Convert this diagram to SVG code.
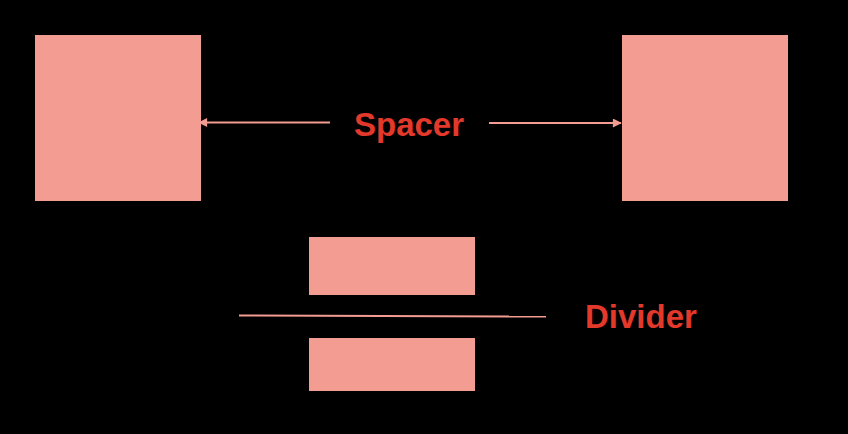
<svg xmlns="http://www.w3.org/2000/svg" width="848" height="434" viewBox="0 0 848 434">
<style>
.box{fill:#F29C92}
.lbl{font-family:"Liberation Sans",Arial,sans-serif;font-weight:bold;font-size:33px;fill:#E2392B}
.ln{stroke:#F29C92;stroke-width:2;fill:none}
</style>
<defs>
<marker id="ah" viewBox="0 0 10 10" refX="9" refY="5" markerWidth="10" markerHeight="9" markerUnits="userSpaceOnUse" orient="auto">
<path d="M0,0 L10,5 L0,10 z" fill="#F29C92"/>
</marker>
</defs>
<rect width="848" height="434" fill="#000"/>
<g id="box-left"><rect class="box" x="35" y="35" width="166" height="166"/></g>
<g id="box-right"><rect class="box" x="622" y="35" width="166" height="166"/></g>
<g id="box-mid-top"><rect class="box" x="309" y="237" width="166" height="58"/></g>
<g id="box-mid-bottom"><rect class="box" x="309" y="338" width="166" height="53"/></g>
<g id="label-spacer"><text class="lbl" x="354" y="136">Spacer</text></g>
<g id="label-divider"><text class="lbl" x="585" y="328">Divider</text></g>
<g id="connectors">
<line class="ln" x1="330" y1="122.5" x2="199" y2="122.5" marker-end="url(#ah)"/>
<line class="ln" x1="489" y1="123" x2="621" y2="123" marker-end="url(#ah)"/>
<line class="ln" x1="239" y1="315.5" x2="546" y2="316.5"/>
</g>
</svg>
